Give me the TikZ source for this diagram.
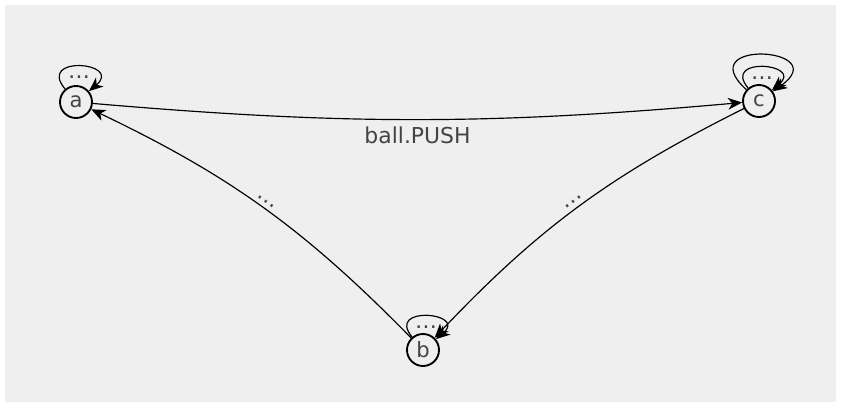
\documentclass[tikz,border=0pt]{standalone}
\usepackage{fontspec}
\setmainfont{DejaVu Sans}
\usetikzlibrary{arrows.meta}
\definecolor{bgc}{HTML}{EFEFEF}
\definecolor{txt}{HTML}{444444}
\begin{document}
\begin{tikzpicture}[x=0.03cm,y=0.03cm,
  state/.style={circle,draw=black,line width=1.6pt,minimum size=0.96cm,inner sep=0pt,font=\fontsize{18}{20}\selectfont,text=txt},
  edge/.style={draw=black,line width=1pt,-{Stealth[length=12pt,width=10pt,inset=3.5pt]}},
  lbl/.style={font=\fontsize{18.7}{22}\selectfont,text=txt,inner sep=1pt}]
\fill[white] (0,0) rectangle (841,410);
\fill[bgc] (5,8) rectangle (836,405);
\useasboundingbox (0,0) rectangle (841,410);
\node[state] (a) at (76,308) {a};
\node[state] (c) at (759,309) {c};
\node[state] (b) at (423,60) {b};
\draw[edge] (a) to[bend right=5] node[lbl,below=5pt] {ball.PUSH} (c);
\draw[edge] (b) to[bend right=10] node[lbl,sloped,above=3pt] {…} (a);
\draw[edge] (c) to[bend right=10] node[lbl,sloped,above=3pt] {…} (b);
\draw[edge] (a) to[out=130,in=40,distance=1.35cm] node[lbl,below=7pt] {…} (a);
\draw[edge] (b) to[out=130,in=40,distance=1.25cm] node[lbl,below=7pt] {…} (b);
\draw[edge] (c) to[out=130,in=40,distance=1.25cm] node[lbl,below=7pt] {…} (c);
\draw[edge] (c) to[out=138,in=35,distance=2.3cm] (c);
\end{tikzpicture}
\end{document}
